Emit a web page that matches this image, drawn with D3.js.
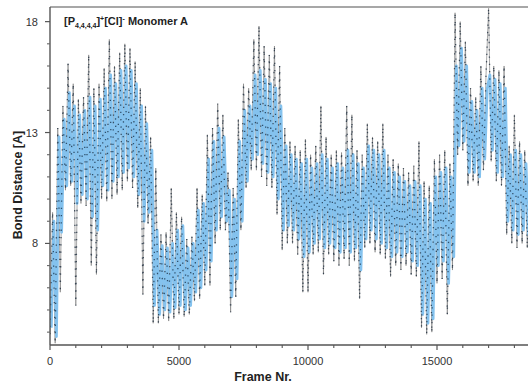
<!DOCTYPE html>
<html>
<head>
<meta charset="utf-8">
<script src="https://cdn.jsdelivr.net/npm/d3@7"></script>
<style>
  html, body { margin: 0; padding: 0; background: #fff; }
  svg { display: block; }
  text { font-family: "Liberation Sans", Arial, sans-serif; }
</style>
</head>
<body>
<svg id="chart" width="528" height="390"></svg>
<script>
// Frame spacing of the sampled trajectory; the bulk trace is sampled half a step later
const frameStep = 100;
const coreOffset = 50;

// Raw P–Cl bond distance (Å) per sampled frame
const rawDistance = [
  3.9, 9.4, 3.5, 13.2, 5.8, 14.2, 10.4, 16.1, 10.6, 15.2,
  5.2, 14.5, 9.8, 14.6, 9.7, 16.5, 7.0, 15.0, 6.6, 15.2,
  10.0, 15.9, 9.9, 17.2, 10.0, 16.0, 10.2, 16.6, 10.4, 17.0,
  10.8, 16.8, 10.5, 16.2, 9.6, 15.0, 5.7, 14.2, 8.9, 12.8,
  4.4, 11.4, 4.4, 8.4, 4.6, 8.5, 4.5, 10.5, 4.6, 9.4,
  4.8, 9.2, 4.7, 8.2, 4.8, 8.3, 5.4, 10.5, 5.5, 10.2,
  6.1, 12.9, 6.1, 13.2, 8.0, 14.3, 8.6, 13.8, 8.6, 11.2,
  4.9, 10.5, 5.6, 13.6, 8.6, 15.2, 10.5, 15.0, 11.3, 17.2,
  11.3, 17.8, 11.0, 16.9, 10.6, 16.5, 10.5, 16.9, 9.3, 16.0,
  7.7, 13.2, 8.0, 12.6, 8.0, 12.4, 7.5, 12.2, 5.8, 12.7,
  5.8, 12.0, 7.5, 12.4, 7.6, 14.2, 6.6, 12.8, 7.5, 12.0,
  7.2, 12.2, 7.0, 12.1, 7.3, 14.2, 7.0, 13.8, 7.2, 12.2,
  5.5, 12.0, 7.8, 13.4, 8.0, 12.8, 7.6, 12.6, 7.5, 13.4,
  7.3, 12.0, 6.5, 11.8, 7.0, 11.6, 6.8, 11.4, 7.0, 11.2,
  6.6, 11.5, 6.5, 12.6, 4.2, 10.8, 3.9, 10.6, 4.0, 11.8,
  6.2, 12.0, 6.4, 12.2, 4.8, 11.6, 6.8, 18.4, 12.0, 18.0,
  12.2, 17.1, 10.6, 15.0, 10.8, 14.6, 10.6, 16.0, 11.3, 15.6,
  18.6, 11.7, 16.0, 10.8, 15.8, 10.6, 16.0, 8.4, 12.4, 8.0,
  13.8, 7.8, 12.6, 8.0, 12.2, 7.8, 12.0
];

// Bulk of the distance distribution per sampled frame (Å)
const coreDistance = [
  4.2, 9.0, 3.8, 12.8, 8.5, 13.6, 10.6, 14.8, 10.8, 14.2,
  9.8, 13.8, 10.2, 14.0, 10.0, 14.6, 9.2, 14.2, 8.6, 14.5,
  10.6, 15.0, 10.4, 15.6, 10.8, 15.2, 11.0, 15.8, 11.2, 16.0,
  11.4, 15.8, 11.0, 15.2, 10.2, 14.2, 9.0, 13.4, 9.4, 12.2,
  5.2, 8.6, 4.8, 7.9, 5.0, 7.8, 4.9, 8.0, 5.1, 8.6,
  5.2, 8.8, 5.0, 7.8, 5.2, 8.0, 5.8, 9.5, 6.0, 9.8,
  6.8, 11.8, 7.2, 12.6, 8.6, 13.2, 9.2, 12.8, 9.0, 10.4,
  5.6, 10.0, 6.4, 12.6, 9.0, 14.0, 10.8, 14.2, 11.8, 15.6,
  12.0, 15.8, 11.6, 15.4, 11.2, 15.2, 11.0, 15.0, 10.0, 14.2,
  8.6, 12.4, 8.8, 12.0, 8.6, 11.8, 8.2, 11.6, 7.4, 11.8,
  7.6, 11.4, 8.0, 11.6, 8.2, 12.0, 7.8, 11.8, 8.0, 11.4,
  7.8, 11.6, 7.6, 11.4, 7.8, 12.2, 7.6, 12.0, 7.8, 11.6,
  6.8, 11.4, 8.2, 12.4, 8.6, 12.2, 8.2, 12.0, 8.0, 12.2,
  7.8, 11.4, 7.4, 11.2, 7.6, 11.0, 7.4, 10.8, 7.6, 10.6,
  7.2, 10.8, 7.0, 10.6, 4.8, 10.0, 4.4, 9.8, 4.6, 11.0,
  7.0, 11.2, 7.2, 11.4, 6.2, 11.0, 7.4, 16.0, 12.4, 16.8,
  12.6, 16.0, 11.2, 14.4, 11.2, 14.0, 11.0, 15.0, 11.8, 15.0,
  15.6, 12.2, 15.4, 11.2, 15.2, 11.0, 15.0, 9.0, 12.0, 8.6,
  12.2, 8.4, 12.0, 8.6, 11.6, 8.4, 11.4
];

// Axis ticks and labels
const xMajorTicks = [0, 5000, 10000, 15000];
const xMinorTicks = [1000, 2000, 3000, 4000, 6000, 7000, 8000, 9000, 11000, 12000, 13000, 14000, 16000, 17000, 18000, 19000];
const yMajorTicks = [8, 13, 18];
const yMinorTicks = [4, 5, 6, 7, 9, 10, 11, 12, 14, 15, 16, 17];
const xTitle = "Frame Nr.";
const yTitle = "Bond Distance [A]";

const svg = d3.select("#chart");
const plotLeft = 50, plotTop = 7, plotBottom = 345;

const x = d3.scaleLinear().domain([0, 20000]).range([plotLeft, 566]);
const y = d3.scaleLinear().domain([3.42, 18.66]).range([plotBottom, plotTop]);

const toPoints = (arr, offset) => arr.map((v, i) => [i * frameStep + offset, v]);
const line = d3.line().x(d => x(d[0])).y(d => y(d[1]));

svg.append("defs").append("clipPath").attr("id", "plot-clip")
  .append("rect").attr("x", plotLeft).attr("y", plotTop)
  .attr("width", 528 - plotLeft).attr("height", plotBottom - plotTop);

const plot = svg.append("g").attr("clip-path", "url(#plot-clip)");
const rawPath = line(toPoints(rawDistance, 0));
const corePath = line(toPoints(coreDistance, coreOffset));

// thin raw trace (grey excursions)
plot.append("path")
  .attr("d", rawPath)
  .attr("fill", "none")
  .attr("stroke", "#808080")
  .attr("stroke-width", 0.9)
  .attr("stroke-opacity", 0.75);

// light-blue bulk trace
plot.append("path")
  .attr("d", corePath)
  .attr("fill", "none")
  .attr("stroke", "#84c2ee")
  .attr("stroke-width", 2.8)
  .attr("stroke-linejoin", "round");

// dotted black overlay of the raw trace
plot.append("path")
  .attr("d", rawPath)
  .attr("fill", "none")
  .attr("stroke", "#0d1f33")
  .attr("stroke-width", 1.3)
  .attr("stroke-dasharray", "1.3 6")
  .attr("stroke-opacity", 0.7);

// frame top edge
svg.append("line")
  .attr("x1", plotLeft).attr("x2", 528).attr("y1", plotTop).attr("y2", plotTop)
  .attr("stroke", "#8a8a8a").attr("stroke-width", 1.5);

// x axis
const xAxis = svg.append("g");
xAxis.append("line")
  .attr("x1", plotLeft).attr("x2", 528).attr("y1", plotBottom).attr("y2", plotBottom)
  .attr("stroke", "#555").attr("stroke-width", 1.4);
xAxis.selectAll(".xmaj").data(xMajorTicks).join("line").attr("class", "xmaj")
  .attr("x1", d => x(d)).attr("x2", d => x(d))
  .attr("y1", plotBottom).attr("y2", plotBottom + 5)
  .attr("stroke", "#555").attr("stroke-width", 1.2);
xAxis.selectAll(".xmin").data(xMinorTicks).join("line").attr("class", "xmin")
  .attr("x1", d => x(d)).attr("x2", d => x(d))
  .attr("y1", plotBottom).attr("y2", plotBottom + 3)
  .attr("stroke", "#555").attr("stroke-width", 1.1);
xAxis.selectAll(".xlab").data(xMajorTicks).join("text").attr("class", "xlab")
  .attr("x", d => x(d)).attr("y", 365)
  .attr("text-anchor", "middle")
  .attr("font-size", 11).attr("fill", "#333")
  .text(d => d);

// y axis
const yAxis = svg.append("g");
yAxis.append("line")
  .attr("x1", plotLeft).attr("x2", plotLeft).attr("y1", plotTop).attr("y2", plotBottom)
  .attr("stroke", "#555").attr("stroke-width", 1.4);
yAxis.selectAll(".ymaj").data(yMajorTicks).join("line").attr("class", "ymaj")
  .attr("x1", plotLeft - 5).attr("x2", plotLeft)
  .attr("y1", d => y(d)).attr("y2", d => y(d))
  .attr("stroke", "#555").attr("stroke-width", 1.2);
yAxis.selectAll(".ymin").data(yMinorTicks).join("line").attr("class", "ymin")
  .attr("x1", plotLeft - 3).attr("x2", plotLeft)
  .attr("y1", d => y(d)).attr("y2", d => y(d))
  .attr("stroke", "#666").attr("stroke-width", 1.1);
yAxis.selectAll(".ylab").data(yMajorTicks).join("text").attr("class", "ylab")
  .attr("x", 38).attr("y", d => y(d) + 4)
  .attr("text-anchor", "end")
  .attr("font-size", 11).attr("fill", "#333")
  .text(d => d);

// axis titles
svg.append("text")
  .attr("x", 263).attr("y", 381)
  .attr("text-anchor", "middle")
  .attr("font-size", 12.5).attr("font-weight", "bold").attr("fill", "#222")
  .text(xTitle);
svg.append("text")
  .attr("transform", "translate(22,185) rotate(-90)")
  .attr("text-anchor", "middle")
  .attr("font-size", 12.5).attr("font-weight", "bold").attr("fill", "#222")
  .text(yTitle);

// panel label with sub/superscripts
const label = svg.append("text")
  .attr("x", 64).attr("y", 25)
  .attr("font-size", 11).attr("font-weight", "bold").attr("fill", "#222");
label.append("tspan").text("[P");
label.append("tspan").attr("font-size", 7).attr("dy", 2.5).text("4,4,4,4");
label.append("tspan").attr("dy", -2.5).text("]");
label.append("tspan").attr("font-size", 7).attr("dy", -4).text("+");
label.append("tspan").attr("dy", 4).text("[Cl]");
label.append("tspan").attr("font-size", 7).attr("dy", -4).text("-");
label.append("tspan").attr("dy", 4).text(" Monomer A");
</script>
</body>
</html>
